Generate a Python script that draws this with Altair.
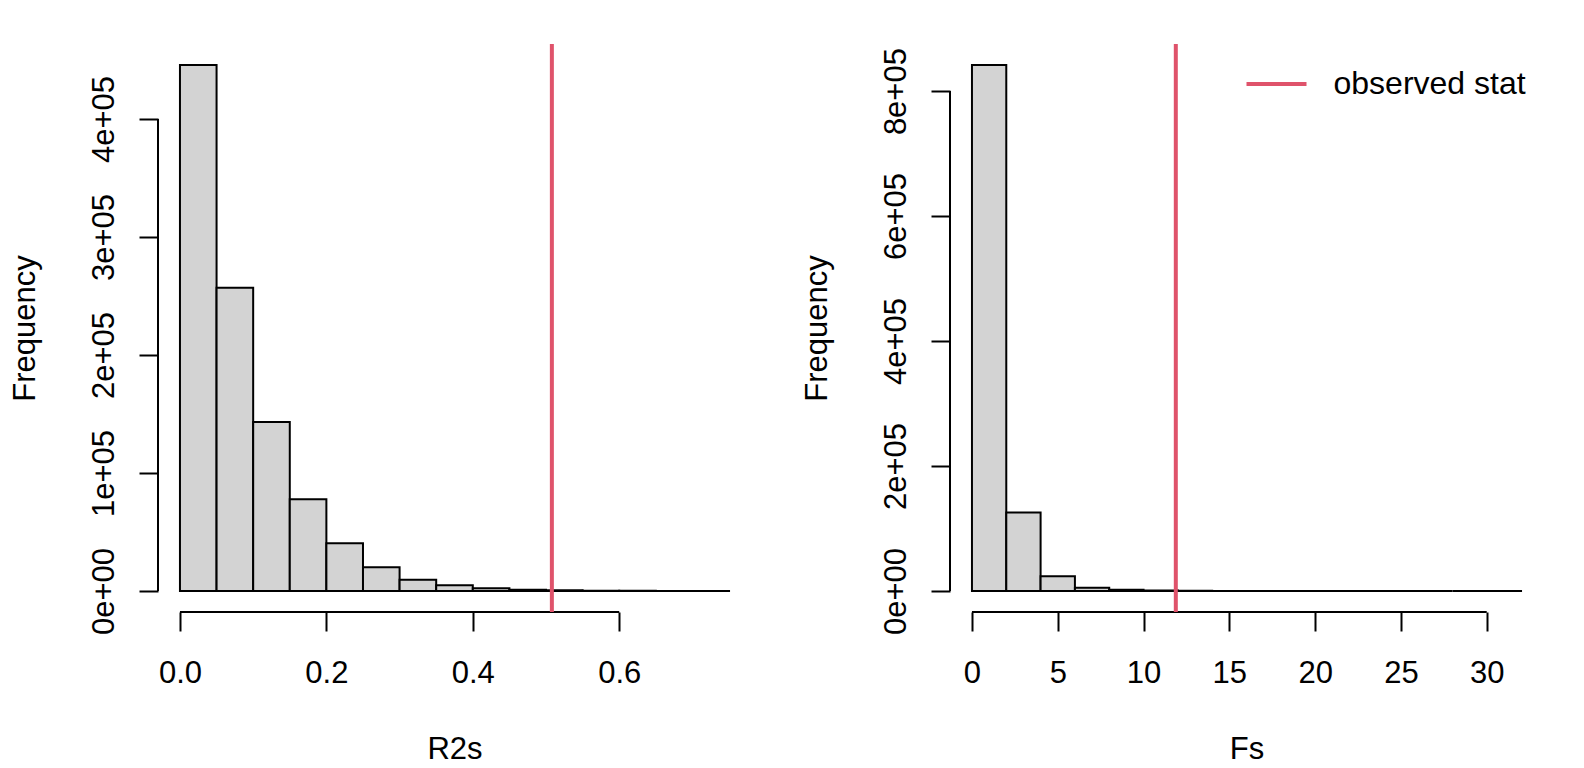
import altair as alt
import pandas as pd

# ---- data ----
r2_breaks = [0.00, 0.05, 0.10, 0.15, 0.20, 0.25, 0.30, 0.35, 0.40, 0.45,
             0.50, 0.55, 0.60, 0.65, 0.70, 0.75]
r2_counts = [445800, 257000, 143200, 77700, 40400, 20100, 9600, 4800,
             2300, 1100, 500, 200, 100, 40, 10]
r2_observed = 0.508
r2_xticks = [0.0, 0.2, 0.4, 0.6]
r2_yticks = [0, 100000, 200000, 300000, 400000]

f_breaks = [0, 2, 4, 6, 8, 10, 12, 14, 16, 18, 20, 22, 24, 26, 28, 30, 32]
f_counts = [841700, 125400, 23500, 5300, 2000, 600, 200, 60,
            20, 8, 3, 1, 1, 0, 0, 1]
f_observed = 11.88
f_xticks = [0, 5, 10, 15, 20, 25, 30]
f_yticks = [0, 200000, 400000, 600000, 800000]

legend_label = "observed stat"

# ---- styling ----
W, H = 593, 568
FONT = "Liberation Sans"
FS = 31
RED = "#DF536B"
GRAY = "#D3D3D3"


def panel(breaks, counts, obs, xticks, yticks, xtitle, xfmt, show_legend):
    hist = pd.DataFrame({"lo": breaks[:-1], "hi": breaks[1:],
                         "count": counts, "base": [0] * len(counts)})
    xr = breaks[-1] - breaks[0]
    x_dom = [breaks[0] - 0.04 * xr, breaks[-1] + 0.04 * xr]
    M = max(counts)
    y_dom = [-0.04 * M, 1.04 * M]
    xs = alt.Scale(domain=x_dom, nice=False, zero=False)
    ys = alt.Scale(domain=y_dom, nice=False, zero=False)

    xaxis = alt.Axis(values=xticks, domain=False, grid=False, ticks=True,
                     tickSize=19, tickWidth=2, tickColor="black",
                     labelFont=FONT, labelFontSize=FS, labelColor="black",
                     labelPadding=27, labelFlush=False, labelOverlap=False,
                     format=xfmt, title=xtitle, titleFont=FONT,
                     titleFontSize=FS, titleFontWeight="normal",
                     titleColor="black", titleBaseline="alphabetic",
                     titleAlign="center", titleX=W / 2, titleY=146)
    yaxis = alt.Axis(values=yticks, domain=False, grid=False, ticks=True,
                     tickSize=19, tickWidth=2, tickColor="black",
                     labelFont=FONT, labelFontSize=FS, labelColor="black",
                     labelAngle=270, labelAlign="center",
                     labelBaseline="alphabetic", labelPadding=26,
                     labelFlush=False, labelOverlap=False,
                     labelExpr="datum.value == 0 ? '0e+00' : (datum.value/100000) + 'e+05'",
                     title="Frequency", titleFont=FONT, titleFontSize=FS,
                     titleFontWeight="normal", titleColor="black",
                     titleAngle=270, titleAlign="center",
                     titleBaseline="alphabetic", titleX=-123.7, titleY=H / 2)

    bars = alt.Chart(hist).mark_rect(fill=GRAY, stroke="black", strokeWidth=2).encode(
        x=alt.X("lo:Q", scale=xs, axis=xaxis),
        x2="hi:Q",
        y=alt.Y("count:Q", scale=ys, axis=yaxis),
        y2="base:Q",
    )

    xline = alt.Chart(pd.DataFrame({"a": [xticks[0]], "b": [xticks[-1]],
                                    "y": [y_dom[0]]})).mark_rule(
        color="black", strokeWidth=2).encode(
        x=alt.X("a:Q", scale=xs), x2="b:Q", y=alt.Y("y:Q", scale=ys))

    yline = alt.Chart(pd.DataFrame({"a": [yticks[0]], "b": [yticks[-1]],
                                    "x": [x_dom[0]]})).mark_rule(
        color="black", strokeWidth=2).encode(
        y=alt.Y("a:Q", scale=ys), y2="b:Q", x=alt.X("x:Q", scale=xs))

    if show_legend:
        leg = alt.Legend(orient="none", legendX=294.5, legendY=8, title=None,
                         symbolType="stroke", symbolSize=3600,
                         symbolStrokeWidth=4, labelFont=FONT,
                         labelFontSize=32, labelColor="black",
                         labelOffset=25, labelLimit=0, padding=0)
    else:
        leg = None

    obs_df = pd.DataFrame({"obs": [obs], "label": [legend_label],
                           "lo": [y_dom[0]], "hi": [y_dom[1]]})
    obs_rule = alt.Chart(obs_df).mark_rule(strokeWidth=4).encode(
        x=alt.X("obs:Q", scale=xs),
        y=alt.Y("lo:Q", scale=ys),
        y2="hi:Q",
        color=alt.Color("label:N",
                        scale=alt.Scale(domain=[legend_label], range=[RED]),
                        legend=leg),
    )

    return alt.layer(bars, xline, yline, obs_rule).properties(width=W, height=H)


left = panel(r2_breaks, r2_counts, r2_observed, r2_xticks, r2_yticks,
             "R2s", ".1f", False)
right = panel(f_breaks, f_counts, f_observed, f_xticks, f_yticks,
              "Fs", "d", True)

chart = alt.hconcat(left, right, spacing=50).resolve_scale(
    x="independent", y="independent", color="independent"
).properties(
    padding={"left": 1, "top": 34, "right": 0, "bottom": 0},
    background="white",
).configure_view(stroke=None)

chart.save("out.html", embed_options={"renderer": "svg", "actions": False})
